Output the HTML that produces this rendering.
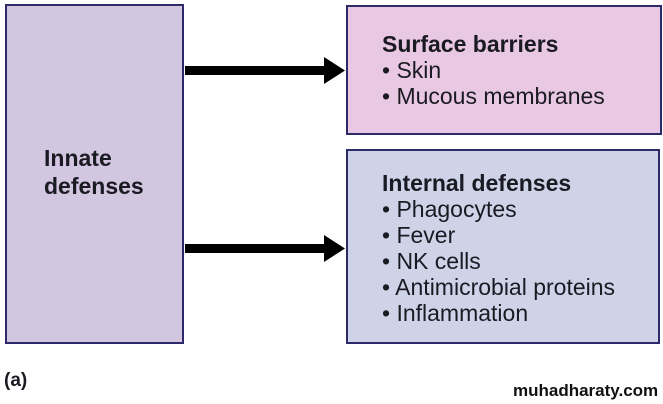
<!DOCTYPE html>
<html><head><style>
body{margin:0;width:663px;height:404px;background:#fff;position:relative;overflow:hidden;font-family:"Liberation Sans",Arial,sans-serif;color:#1a1a22}
.box{position:absolute;border:2px solid #2e2a6a;box-sizing:border-box}
.t{position:absolute;font-size:23px;line-height:26px;white-space:nowrap}
b{font-weight:bold}
</style></head><body>
<div class="box" style="left:5px;top:4px;width:179px;height:340px;background:#d3c6e0"></div>
<div class="box" style="left:346px;top:5px;width:316px;height:130px;background:#e8c8e2"></div>
<div class="box" style="left:346px;top:149px;width:314px;height:195px;background:#ced3e8"></div>
<div class="t" style="left:44px;top:144px;font-size:23px;line-height:28px;font-weight:bold">Innate<br>defenses</div>
<div class="t" style="left:382px;top:31px"><b>Surface barriers</b><br>• Skin<br>• Mucous membranes</div>
<div class="t" style="left:382px;top:170px"><b>Internal defenses</b><br>• Phagocytes<br>• Fever<br>• NK cells<br>• Antimicrobial proteins<br>• Inflammation</div>
<svg style="position:absolute;left:0;top:0" width="663" height="404">
<rect x="185" y="66" width="142" height="9" fill="#000"/>
<polygon points="324,57 345,70.5 324,84" fill="#000"/>
<rect x="185" y="244" width="142" height="9" fill="#000"/>
<polygon points="324,235 345,248.5 324,262" fill="#000"/>
</svg>
<div class="t" style="left:4px;top:368px;font-weight:bold;font-size:19px">(a)</div>
<div class="t" style="left:513px;top:378px;font-weight:bold;font-size:17px;color:#111">muhadharaty.com</div>
</body></html>
